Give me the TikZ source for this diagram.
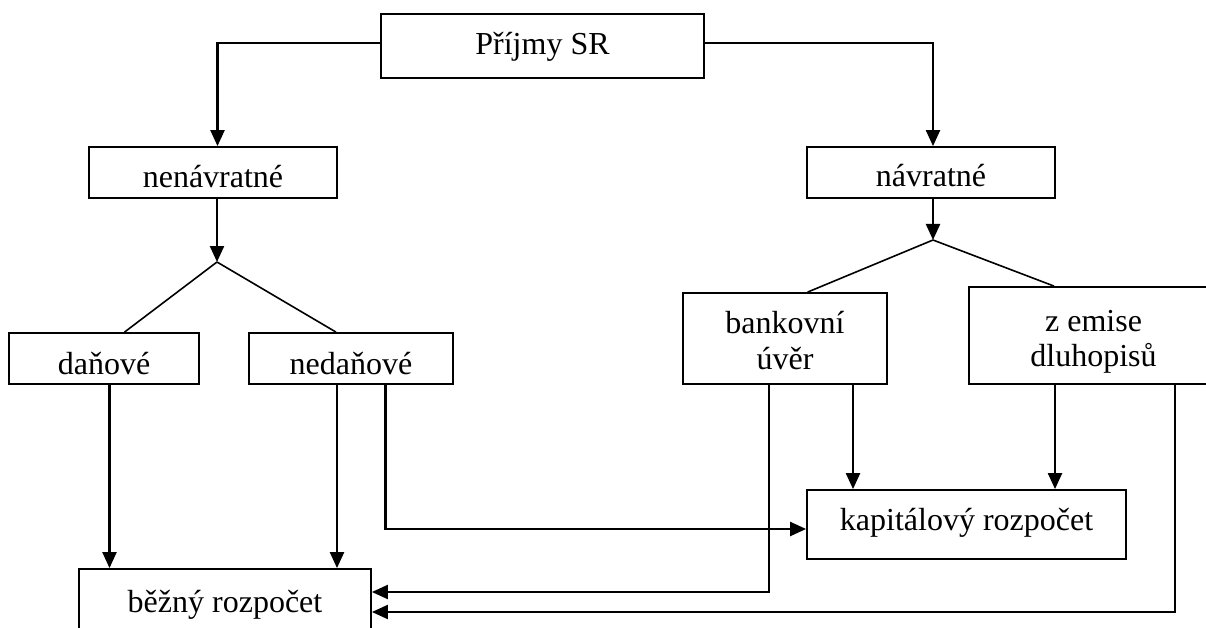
\documentclass[tikz,border=0pt]{standalone}
\usepackage{fontspec}
\setmainfont{Liberation Serif}
\usetikzlibrary{arrows.meta}
\begin{document}
\begin{tikzpicture}[x=1pt,y=-1pt,
  box/.style={draw,line width=1.8pt,rectangle,inner sep=0pt},
  lbl/.style={anchor=base,inner sep=0pt,font=\fontsize{32}{35}\selectfont},
  arr/.style={line width=2.2pt,-{Triangle[length=16pt,width=14pt]}},
  conn/.style={line width=2.2pt},
  diag/.style={line width=1.6pt}]
\useasboundingbox (0,0) rectangle (1206,628);
\clip (0,0) rectangle (1206,628);
% boxes
\node[box,minimum width=323pt,minimum height=64pt] (p) at (542.5,46) {};
\node[box,minimum width=248pt,minimum height=51pt] (nen) at (213,172.5) {};
\node[box,minimum width=248pt,minimum height=51pt] (nav) at (931,172.5) {};
\node[box,minimum width=190pt,minimum height=51pt] (dan) at (104,358.5) {};
\node[box,minimum width=204.5pt,minimum height=51pt] (ned) at (351,358.5) {};
\node[box,minimum width=204pt,minimum height=91pt] (bank) at (785,338.5) {};
\node[box,minimum width=249pt,minimum height=97pt] (zem) at (1093.5,335.5) {};
\node[box,minimum width=319pt,minimum height=69pt] (kap) at (966.5,524.5) {};
\node[box,minimum width=292pt,minimum height=70pt] (bez) at (225,604) {};
% labels
\node[lbl] (tp) at (542.5,55) {Příjmy SR};
\node[lbl] (tnen) at (213,188) {nenávratné};
\node[lbl] (tnav) at (931,187) {návratné};
\node[lbl] (tdan) at (104,374) {daňové};
\node[lbl] (tned) at (351,374) {nedaňové};
\node[lbl] (tbank1) at (785,333) {bankovní};
\node[lbl] (tbank2) at (785,369) {úvěr};
\node[lbl] (tzem1) at (1093.5,331) {z emise};
\node[lbl] (tzem2) at (1093.5,366) {dluhopisů};
\node[lbl] (tkap) at (966.5,530) {kapitálový rozpočet};
\node[lbl] (tbez) at (225,612) {běžný rozpočet};
% branch points
\coordinate (a1) at (217,262);
\coordinate (a2) at (933,240);
% connectors
\draw[arr] ([yshift=3pt]p.west) -| ([xshift=4.5pt]nen.north);
\draw[arr] ([yshift=3pt]p.east) -| ([xshift=2pt]nav.north);
\draw[arr] ([xshift=4pt]nen.south) -- (a1);
\draw[arr] ([xshift=2pt]nav.south) -- (a2);
\draw[diag] (a1) -- ([xshift=20.5pt]dan.north);
\draw[diag] (a1) -- ([xshift=-15pt]ned.north);
\draw[diag] (a2) -- ([xshift=22.6pt]bank.north);
\draw[diag] (a2) -- ([xshift=-39.5pt]zem.north);
\draw[arr] ([xshift=5.5pt]dan.south) -- ([xshift=5.5pt]dan.south |- bez.north);
\draw[arr] ([xshift=-14pt]ned.south) -- ([xshift=-14pt]ned.south |- bez.north);
\draw[arr] ([xshift=34.5pt]ned.south) |- ([yshift=-4.5pt]kap.west);
\draw[arr] ([xshift=68pt]bank.south) -- ([xshift=68pt]bank.south |- kap.north);
\draw[arr] ([xshift=-38.5pt]zem.south) -- ([xshift=-38.5pt]zem.south |- kap.north);
\draw[arr] ([xshift=-16pt]bank.south) |- ([yshift=12pt]bez.east);
\draw[arr] ([xshift=81.5pt]zem.south) |- ([yshift=-8pt]bez.east);
\end{tikzpicture}
\end{document}
